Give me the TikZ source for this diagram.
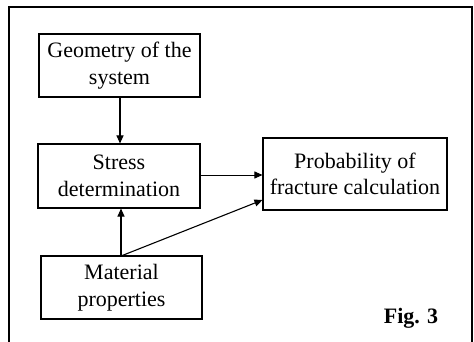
\documentclass[tikz,border=0pt]{standalone}
\usepackage{fontspec}
\setmainfont{Liberation Serif}
\usetikzlibrary{arrows.meta}
\begin{document}
\begin{tikzpicture}[x=1pt,y=-1pt,
  box/.style={draw,line width=1.1pt,minimum width=#1,align=center,inner sep=0pt,font=\fontsize{22}{26.5}\selectfont},
  arr/.style={line width=1.1pt,-{Triangle[length=8pt,width=7pt]}}]
\useasboundingbox (0,0) rectangle (474,342);
\draw[line width=1.3pt] (9,345) -- (9,7) -- (472,7) -- (472,345);
\node[box=161pt,minimum height=63pt] (geo) at (119.5,65.5) {Geometry of the\\system};
\node[box=162pt,minimum height=64pt] (str) at (119,176) {Stress\\determination};
\node[box=161pt,minimum height=63pt] (mat) at (121.5,287.5) {Material\\properties};
\node[box=184pt,minimum height=72pt] (pro) at (355,174) {Probability of\\fracture calculation};
\node[font=\fontsize{22}{26}\selectfont\bfseries] (fig) at (411,318) {Fig. 3};
\coordinate (mt) at (121,256);
\draw[arr] (geo.south -| 120,0) -- (str.north -| 120,0);
\draw[arr,line width=0.9pt] (str.east |- 0,175) -- (pro.west |- 0,175);
\draw[arr] (mt) -- (str.south -| mt);
\draw[arr] (mt) -- (pro.west |- 0,200);
\end{tikzpicture}
\end{document}
